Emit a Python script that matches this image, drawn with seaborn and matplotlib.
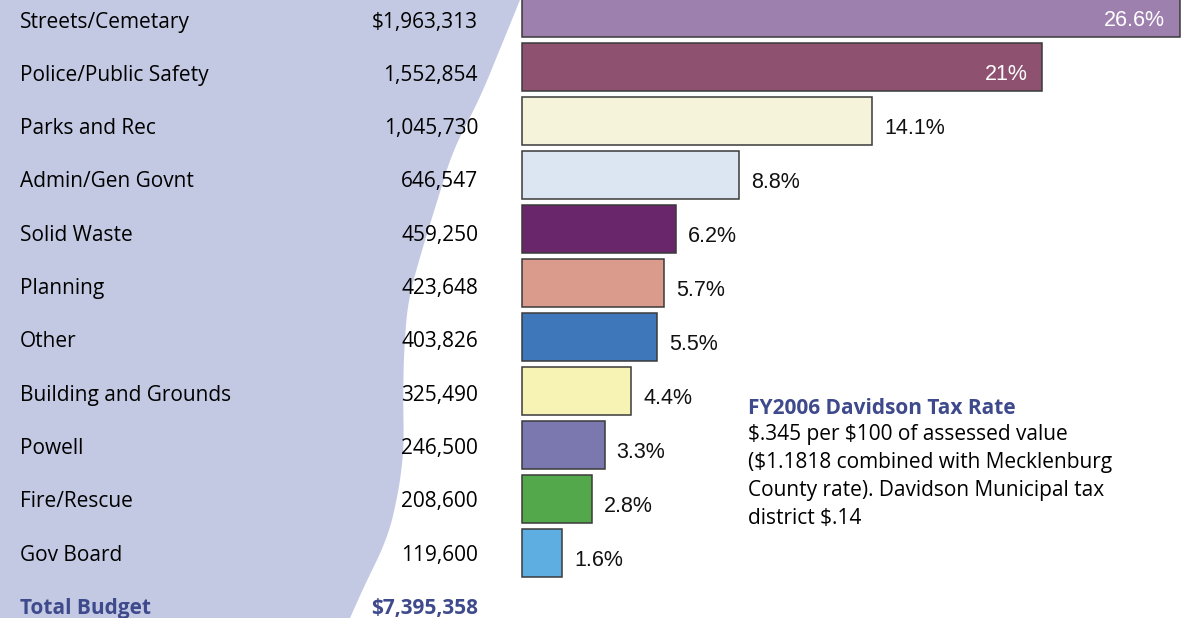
import numpy as np
import pandas as pd
import matplotlib
matplotlib.use("Agg")
import matplotlib.pyplot as plt
import matplotlib.transforms as mtransforms
from matplotlib.patches import Polygon
import seaborn as sns

# ---------------- data ----------------
categories = ["Streets/Cemetary", "Police/Public Safety", "Parks and Rec",
              "Admin/Gen Govnt", "Solid Waste", "Planning", "Other",
              "Building and Grounds", "Powell", "Fire/Rescue", "Gov Board"]
amounts = [1963313, 1552854, 1045730, 646547, 459250, 423648, 403826,
           325490, 246500, 208600, 119600]
amount_labels = ["$1,963,313", "1,552,854", "1,045,730", "646,547", "459,250",
                 "423,648", "403,826", "325,490", "246,500", "208,600", "119,600"]
pct_labels = ["26.6%", "21%", "14.1%", "8.8%", "6.2%", "5.7%", "5.5%",
              "4.4%", "3.3%", "2.8%", "1.6%"]
total_label = "Total Budget"
total_value = "$7,395,358"
note_title = "FY2006 Davidson Tax Rate"
note_lines = ["$.345 per $100 of assessed value",
              "($1.1818 combined with Mecklenburg",
              "County rate). Davidson Municipal tax",
              "district $.14"]
bar_colors = ["#9e80ae", "#8f5170", "#f5f3da", "#dce6f2", "#69266b", "#da9a8c",
              "#3f78ba", "#f7f3b5", "#7b78b0", "#52a84a", "#5faee2"]

# ---------------- style ----------------
sns.set_theme(style="white")
plt.rcParams["font.family"] = ["Open Sans", "DejaVu Sans"]
plt.rcParams["text.parse_math"] = False

W, H = 1188, 618
fig = plt.figure(figsize=(W / 100, H / 100), dpi=100)
ax = fig.add_axes([0, 0, 1, 1])
ax.set_axis_off()

# decorative background shape (figure pixels)
cx = np.array([520, 480, 453, 422, 408, 404, 403, 404, 403, 397, 387, 367, 350])
cy = np.array([0, 98, 150, 250, 300, 350, 400, 440, 460, 500, 540, 580, 618])
tf = np.linspace(0, 618, 400)
sx = np.interp(tf, cy, cx)
k = np.ones(31) / 31
sx_s = np.convolve(np.pad(sx, 15, mode="reflect", reflect_type="odd"), k, mode="valid")
px = np.concatenate([[0], sx_s, [0]])
py = np.concatenate([[0], tf, [618]])
verts = np.column_stack([px / W, 1 - py / H])
ax.add_patch(Polygon(verts, closed=True, transform=fig.transFigure,
                     facecolor="#c3c9e3", edgecolor="none", zorder=-5))

df = pd.DataFrame({"cat": categories, "amt": amounts})
sns.barplot(data=df, x="amt", y="cat", hue="cat", palette=bar_colors,
            legend=False, orient="h", width=0.907, saturation=1,
            edgecolor="#3a3a3a", linewidth=1.1, ax=ax)

# scales: x=0 at pixel 522, largest bar ends at pixel 1180
s = (1180 - 522) / amounts[0]
ax.set_xlim(-522 / s, (W - 522) / s)
ax.set_ylim((H - 13) / 54, -13 / 54)

blend = mtransforms.blended_transform_factory(ax.transAxes, ax.transData)
label_fs = 15
for i, (c, v) in enumerate(zip(categories, amount_labels)):
    yb = 0.27 + 0.987 * i
    ax.text(20 / W, yb, c, transform=blend, ha="left", va="baseline",
            fontsize=label_fs, color="black")
    ax.text(478 / W, yb, v, transform=blend, ha="right", va="baseline",
            fontsize=label_fs, color="black")
yb = 0.27 + 0.987 * len(categories)
ax.text(20 / W, yb, total_label, transform=blend, ha="left", va="baseline",
        fontsize=label_fs, color="#3e4a8c", fontweight="bold")
ax.text(478 / W, yb, total_value, transform=blend, ha="right", va="baseline",
        fontsize=label_fs, color="#3e4a8c", fontweight="bold")

# percentage labels
for i, (v, p) in enumerate(zip(amounts, pct_labels)):
    inside = i < 2
    ax.annotate(p, xy=(v, i + 12.5 / 54), xycoords="data",
                xytext=(-15 * 0.72 if inside else 12 * 0.72, 0),
                textcoords="offset points",
                ha="right" if inside else "left", va="baseline",
                fontsize=15.5, family="Liberation Sans",
                color="white" if inside else "#111111")

# tax rate note
ax.text(748 / W, 1 - 414 / H, note_title, transform=ax.transAxes,
        ha="left", va="baseline", fontsize=15, fontweight="bold", color="#3e4a8c")
for j, line in enumerate(note_lines):
    ax.text(748 / W, 1 - (440 + 28 * j) / H, line, transform=ax.transAxes,
            ha="left", va="baseline", fontsize=15, color="black")

fig.savefig("out.png", dpi=100)
